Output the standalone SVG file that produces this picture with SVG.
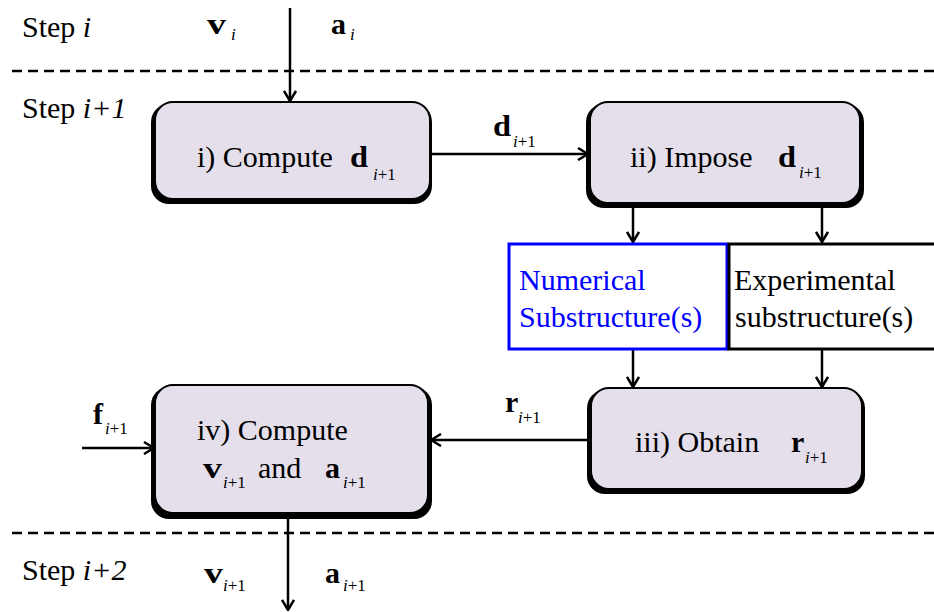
<svg xmlns="http://www.w3.org/2000/svg" width="934" height="612" viewBox="0 0 934 612">
<defs>
<marker id="arr" viewBox="0 0 12 14" markerWidth="12" markerHeight="14" refX="11" refY="7" orient="auto" markerUnits="userSpaceOnUse">
<path d="M1,1 L11,7 L1,13" fill="none" stroke="#000" stroke-width="2.5"/>
</marker>
<style>
text{font-family:'Liberation Serif','Times New Roman',serif;fill:#000}
.t{font-size:30px}
.b{font-size:30px;font-weight:bold}
.s{font-size:17px;font-style:italic}
.blue{fill:#0000ff}
.box{fill:#e5dfec;stroke:#000;stroke-width:2}
.sh{fill:#000}
.dash{stroke:#000;stroke-width:2.5;stroke-dasharray:10 6;fill:none}
.ln{stroke:#000;stroke-width:2.5;fill:none}
</style>
</defs>
<rect width="934" height="612" fill="#fff"/>

<g id="dividers">
<line class="dash" x1="12" y1="71" x2="934" y2="71"/>
<line class="dash" x1="12" y1="533" x2="934" y2="533"/>
</g>

<g id="labels">
<text class="t" x="22" y="37">Step <tspan font-style="italic">i</tspan></text>
<text class="b" x="207" y="34" textLength="19" lengthAdjust="spacingAndGlyphs">v</text><text class="s" x="231" y="40">i</text>
<text class="b" x="331" y="34">a</text><text class="s" x="350" y="40">i</text>
<text class="t" x="22" y="118">Step <tspan font-style="italic">i+1</tspan></text>
<text class="t" x="22" y="580">Step <tspan font-style="italic">i+2</tspan></text>
<text class="b" x="204" y="583" textLength="19" lengthAdjust="spacingAndGlyphs">v</text><text class="s" x="223" y="591">i<tspan font-style="normal">+1</tspan></text>
<text class="b" x="325" y="583">a</text><text class="s" x="343" y="591">i<tspan font-style="normal">+1</tspan></text>
</g>

<g id="connectors">
<line class="ln" x1="290" y1="8" x2="290" y2="101" marker-end="url(#arr)"/>
<line class="ln" x1="430" y1="154" x2="588" y2="154" marker-end="url(#arr)"/>
<line class="ln" x1="633" y1="206" x2="633" y2="242" marker-end="url(#arr)"/>
<line class="ln" x1="822" y1="206" x2="822" y2="242" marker-end="url(#arr)"/>
<line class="ln" x1="633" y1="350" x2="633" y2="387" marker-end="url(#arr)"/>
<line class="ln" x1="822" y1="350" x2="822" y2="387" marker-end="url(#arr)"/>
<line class="ln" x1="591" y1="440" x2="431" y2="440" marker-end="url(#arr)"/>
<line class="ln" x1="82" y1="448" x2="154" y2="448" marker-end="url(#arr)"/>
<line class="ln" x1="288" y1="516" x2="288" y2="610" marker-end="url(#arr)"/>
<text class="b" x="493" y="136" textLength="18" lengthAdjust="spacingAndGlyphs">d</text><text class="s" x="513" y="147">i<tspan font-style="normal">+1</tspan></text>
<text class="b" x="505" y="412">r</text><text class="s" x="518" y="423">i<tspan font-style="normal">+1</tspan></text>
<text class="b" x="93" y="424">f</text><text class="s" x="105" y="434">i<tspan font-style="normal">+1</tspan></text>
</g>

<g id="node-compute-d">
<rect class="sh" x="151" y="104" width="281" height="100" rx="18"/>
<rect class="box" x="155" y="102" width="275" height="97" rx="18"/>
<text class="t" x="197" y="167">i) Compute</text>
<text class="b" x="350" y="167" textLength="18" lengthAdjust="spacingAndGlyphs">d</text><text class="s" x="373" y="180">i<tspan font-style="normal">+1</tspan></text>
</g>

<g id="node-impose-d">
<rect class="sh" x="586" y="104" width="278" height="104" rx="18"/>
<rect class="box" x="590" y="102" width="270" height="101" rx="18"/>
<text class="t" x="630" y="167">ii) Impose</text>
<text class="b" x="778" y="167" textLength="18" lengthAdjust="spacingAndGlyphs">d</text><text class="s" x="799" y="178">i<tspan font-style="normal">+1</tspan></text>
</g>

<g id="node-numerical">
<rect x="509" y="244" width="218" height="105" fill="#fff" stroke="#0000ff" stroke-width="3"/>
<text class="t blue" x="519" y="290">Numerical</text>
<text class="t blue" x="519" y="327">Substructure(s)</text>
</g>

<g id="node-experimental">
<rect x="729" y="244" width="210" height="105" fill="#fff" stroke="#000" stroke-width="3"/>
<text class="t" x="734" y="290">Experimental</text>
<text class="t" x="735" y="327">substructure(s)</text>
</g>

<g id="node-obtain-r">
<rect class="sh" x="587" y="390" width="278" height="104" rx="18"/>
<rect class="box" x="591" y="388" width="271" height="101" rx="18"/>
<text class="t" x="635" y="452">iii) Obtain</text>
<text class="b" x="791" y="452">r</text><text class="s" x="805" y="463">i<tspan font-style="normal">+1</tspan></text>
</g>

<g id="node-compute-va">
<rect class="sh" x="151" y="387" width="281" height="132" rx="18"/>
<rect class="box" x="155" y="385" width="273" height="128" rx="18"/>
<text class="t" x="197" y="440">iv) Compute</text>
<text class="b" x="203" y="478" textLength="19" lengthAdjust="spacingAndGlyphs">v</text><text class="s" x="223" y="488">i<tspan font-style="normal">+1</tspan></text>
<text class="t" x="258" y="478">and</text>
<text class="b" x="325" y="478">a</text><text class="s" x="343" y="488">i<tspan font-style="normal">+1</tspan></text>
</g>
</svg>
